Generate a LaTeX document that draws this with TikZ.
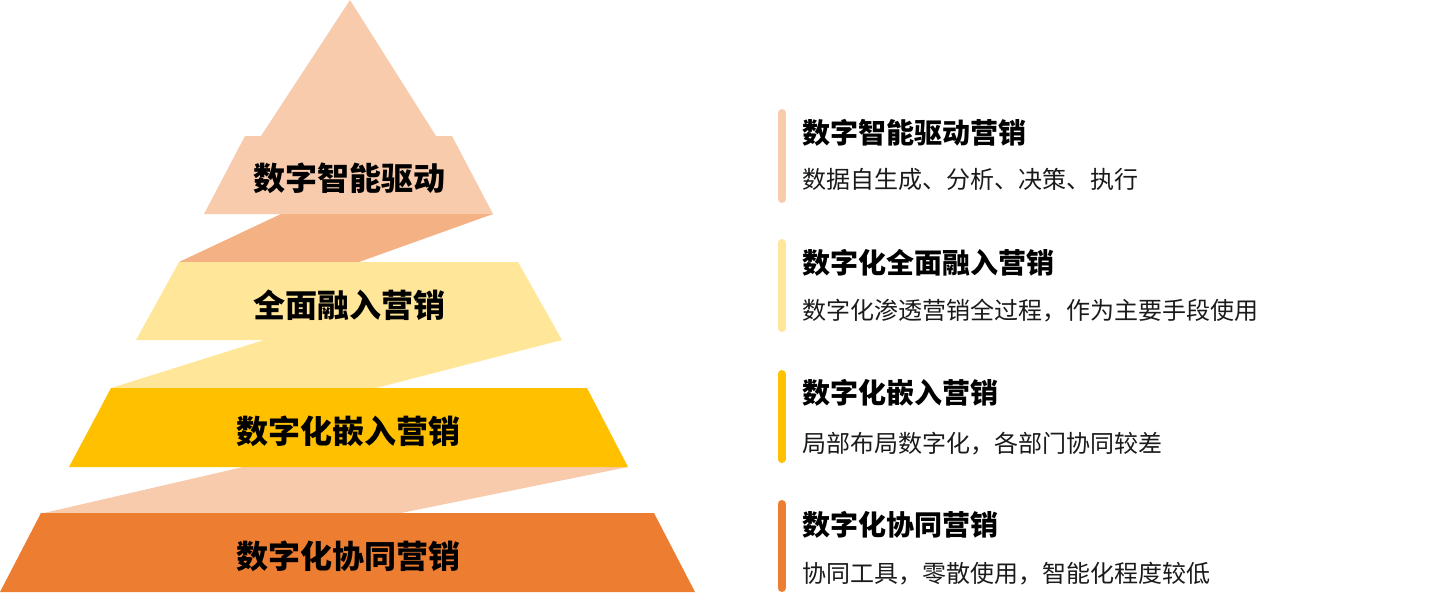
\documentclass[tikz,border=0pt]{standalone}
\usepackage{fontspec}
\newfontfamily\cjk{Noto Sans CJK SC}
\definecolor{cpink}{HTML}{F8CBAD}
\definecolor{csalmon}{HTML}{F4B183}
\definecolor{cyel}{HTML}{FFE699}
\definecolor{cgold}{HTML}{FFC000}
\definecolor{corange}{HTML}{ED7D31}
\definecolor{ctext}{HTML}{1A1A1A}
\tikzset{
  tierlabel/.style={anchor=base, inner sep=0pt, font=\cjk\bfseries\fontsize{32}{32}\selectfont, text=black},
  heading/.style={anchor=base west, inner sep=0pt, font=\cjk\bfseries\fontsize{28}{28}\selectfont, text=black},
  desc/.style={anchor=base west, inner sep=0pt, font=\cjk\fontsize{24}{24}\selectfont, text=ctext},
  bar/.style={line width=8pt, line cap=round}
}
\begin{document}
\begin{tikzpicture}[x=1pt,y=-1pt]
\useasboundingbox (0,0) rectangle (1455,594);
% connecting bands
\fill[csalmon] (281,214) -- (493,214) -- (359,262) -- (179,262) -- cycle;
\fill[cyel] (264,340) -- (562,340) -- (376,388) -- (111,388) -- cycle;
\fill[cpink] (243,467) -- (628,467) -- (401,513) -- (44,513) -- cycle;
% tiers
\fill[cpink] (350,0) -- (436,136) -- (452,136) -- (493,214) -- (204,214) -- (245,136) -- (261,136) -- cycle;
\fill[cyel] (179,262) -- (518,262) -- (562,340) -- (136,340) -- cycle;
\fill[cgold] (111,388) -- (587,388) -- (628,467) -- (69,467) -- cycle;
\fill[corange] (41,513) -- (654,513) -- (695,592) -- (0,592) -- cycle;
% tier labels
\node[tierlabel] (t1) at (349,190) {数字智能驱动};
\node[tierlabel] (t2) at (349,317) {全面融入营销};
\node[tierlabel] (t3) at (348,443) {数字化嵌入营销};
\node[tierlabel] (t4) at (348,568) {数字化协同营销};
% bars
\coordinate (b1s) at (781.5,113); \coordinate (b1e) at (781.5,199);
\coordinate (b2s) at (781.5,243); \coordinate (b2e) at (781.5,328);
\coordinate (b3s) at (781.5,374); \coordinate (b3e) at (781.5,459);
\coordinate (b4s) at (781.5,504); \coordinate (b4e) at (781.5,588);
\draw[bar, cpink] (b1s) -- (b1e);
\draw[bar, cyel] (b2s) -- (b2e);
\draw[bar, cgold] (b3s) -- (b3e);
\draw[bar, corange] (b4s) -- (b4e);
% right-side texts
\node[heading] (h1) at (802,143.6) {数字智能驱动营销};
\node[desc] (d1) at (802,188) {数据自生成、分析、决策、执行};
\node[heading] (h2) at (802,273.6) {数字化全面融入营销};
\node[desc] (d2) at (802,319) {数字化渗透营销全过程，作为主要手段使用};
\node[heading] (h3) at (802,403.6) {数字化嵌入营销};
\node[desc] (d3) at (802,452) {局部布局数字化，各部门协同较差};
\node[heading] (h4) at (802,535.6) {数字化协同营销};
\node[desc] (d4) at (802,582) {协同工具，零散使用，智能化程度较低};
\end{tikzpicture}
\end{document}
